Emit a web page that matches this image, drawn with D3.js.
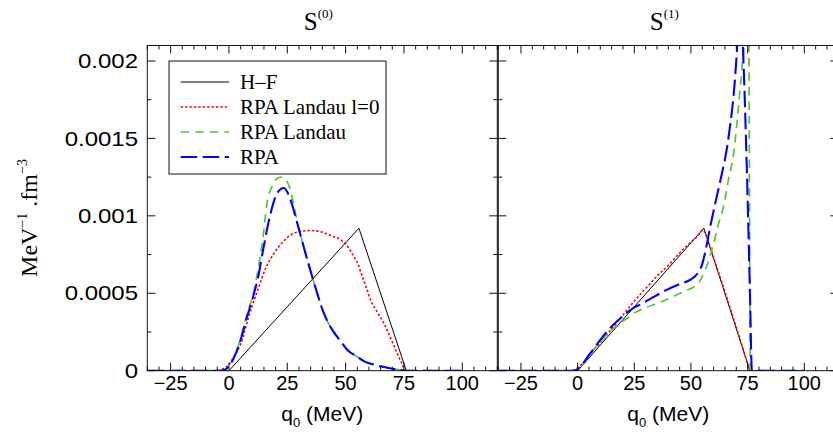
<!DOCTYPE html>
<html><head><meta charset="utf-8">
<script src="https://cdn.jsdelivr.net/npm/d3@7"></script>
<style>body{margin:0;background:#fff}svg{display:block}</style>
</head><body>
<svg id="c" width="833" height="438"></svg>
<script>
// ---------- data ----------
const xTicks = [-25, 0, 25, 50, 75, 100];
const yTicks = [0, 0.0005, 0.001, 0.0015, 0.002];
const yTickLabels = ["0", "0.0005", "0.001", "0.0015", "0.002"];
const panelTitles = ["(0)", "(1)"];
const seriesNames = ["H\u2013F", "RPA Landau l=0", "RPA Landau", "RPA"];

// Panel S(0)
const s0_hf = [[-35,0],[0,0],[55.7,0.00092],[76,0],[100,0]];
const s0_l0 = [[-35,0],[-5,0],[-3,0.00001],[0,0.00004],[2.5,0.0001],[5,0.00017],[8.5,0.00035],[12.3,0.00052],[16,0.00067],[19.4,0.00076],[23,0.00083],[26.5,0.000877],[30,0.000898],[35,0.000905],[40,0.000895],[44,0.00087],[47.9,0.000845],[51,0.0008],[53.5,0.000737],[55.5,0.00068],[57.1,0.00061],[59,0.00053],[60.7,0.000457],[63.5,0.00038],[66.4,0.000306],[69,0.00022],[72.1,0.000112],[74,0.00005],[75.7,0],[100,0]];
const s0_landau = [[-35,0],[-4,0],[-2,0.000005],[0,0.00003],[2,0.00008],[5,0.00021],[8,0.00038],[10,0.00047],[12.3,0.00064],[14.5,0.00085],[16.5,0.0011],[18.5,0.00119],[20.5,0.00124],[22.5,0.00125],[24.5,0.00123],[26.5,0.00116],[28,0.00105],[30,0.00092],[33.5,0.00072],[36.4,0.00057],[40.7,0.00037],[44,0.00027],[47.9,0.00019],[51,0.00013],[55,0.00009],[58,0.00006],[62,0.00004],[66,0.000025],[70,0.000013],[74,0.000004],[76,0],[100,0]];
const s0_rpa = [[-35,0],[-4,0],[-2,0.000005],[0,0.00003],[2,0.00008],[5,0.0002],[8,0.00036],[10,0.00046],[12.3,0.00059],[15,0.00081],[17.9,0.00102],[20.8,0.00115],[23.5,0.00118],[26,0.00112],[29.3,0.00095],[33.5,0.00072],[36.4,0.00057],[40.7,0.00037],[44,0.00027],[47.9,0.00019],[51,0.00013],[55,0.00009],[58,0.00006],[62,0.00004],[66,0.000025],[70,0.000013],[74,0.000004],[76,0],[100,0]];

// Panel S(1)
const s1_hf = [[-35,0],[0,0],[55.7,0.00092],[76,0],[100,0]];
const s1_l0 = [[-35,0],[-3,0],[-1,0.000005],[0,0.00002],[3,0.00006],[5,0.0001],[10,0.00018],[15,0.00027],[20,0.00036],[25,0.00045],[30,0.00053],[35,0.00061],[40,0.00068],[45,0.00076],[50,0.00083],[53,0.00087],[55.3,0.00091],[56.5,0.00088],[60,0.00073],[65,0.00051],[70,0.00028],[73,0.00014],[75.5,0.00002],[76,0],[100,0]];
const s1_landau = [[-35,0],[-2,0],[0,0.00001],[2,0.00004],[5,0.0001],[9,0.00017],[14,0.00025],[19,0.00031],[22,0.00034],[26,0.00038],[30.6,0.00041],[36,0.00044],[42.3,0.00048],[48,0.00052],[51.2,0.00054],[54,0.00058],[55.6,0.00063],[58,0.00072],[60,0.00082],[62,0.00094],[64.4,0.00106],[66.5,0.00123],[68.8,0.0014],[71,0.00171],[72.5,0.00195],[74,0.0022],[74.8,0.0024],[75.5,0.0021],[76.2,0],[100,0]];
const s1_rpa = [[-35,0],[-2,0],[0,0.00001],[2,0.00004],[5,0.0001],[9,0.00018],[14,0.00027],[19,0.00034],[24,0.0004],[28,0.00043],[34,0.00048],[39,0.00052],[45,0.00056],[50,0.00059],[53,0.00063],[55,0.00069],[56.5,0.00078],[58.5,0.00093],[61,0.0011],[63,0.00123],[66.6,0.00151],[69.6,0.00192],[70.4,0.0021],[71.6,0.0025],[72.9,0.0021],[74.1,0.00158],[75.1,0.00105],[76,0.00052],[76.9,0],[100,0]];

const panels = [
  {series: [s0_hf, s0_l0, s0_landau, s0_rpa], range: [147.3, 497.3]},
  {series: [s1_hf, s1_l0, s1_landau, s1_rpa], range: [498.3, 838.3]}
];

// ---------- styles ----------
const styles = [
  {color: "#000000", width: 1, dash: null, curve: d3.curveLinear},
  {color: "#ff0000", width: 1.6, dash: "2.4,2", curve: d3.curveMonotoneX},
  {color: "#55c43b", width: 1.7, dash: "8.5,6", curve: d3.curveMonotoneX},
  {color: "#0000ff", width: 2.1, dash: "16.5,5.5", curve: d3.curveMonotoneX}
];

const svg = d3.select("#c");
const yTop = 45.5, yBot = 370.7;
const y = d3.scaleLinear().domain([0, 0.0021]).range([yBot, yTop]);
const sans = "'Liberation Sans', Arial, Helvetica, sans-serif";
const serif = "'Liberation Serif', 'Times New Roman', serif";
const axisColor = "#111";
const minorX = d3.range(-35, 116, 5);
const minorY = d3.range(0, 0.00211, 0.00025);

panels.forEach((p, pi) => {
  const x = d3.scaleLinear().domain([-35, 115]).range(p.range);
  const g = svg.append("g");
  const clipId = "clip" + pi;
  svg.append("clipPath").attr("id", clipId).append("rect")
    .attr("x", p.range[0]).attr("y", yTop).attr("width", p.range[1] - p.range[0]).attr("height", yBot - yTop);

  // curves
  const cg = g.append("g").attr("clip-path", `url(#${clipId})`);
  p.series.forEach((data, si) => {
    const st = styles[si];
    const line = d3.line().x(d => x(d[0])).y(d => y(d[1])).curve(st.curve);
    cg.append("path").attr("d", line(data)).attr("fill", "none")
      .attr("stroke", st.color).attr("stroke-width", st.width)
      .attr("stroke-dasharray", st.dash);
  });

  // frame
  g.append("rect").attr("x", p.range[0]).attr("y", yTop)
    .attr("width", p.range[1] - p.range[0]).attr("height", yBot - yTop)
    .attr("fill", "none").attr("stroke", axisColor).attr("stroke-width", 1);

  // x ticks (bottom and top, inward)
  minorX.forEach(v => {
    const major = Math.abs(v % 25) < 1e-9;
    const len = major ? 8 : 4;
    const xx = x(v);
    g.append("line").attr("x1", xx).attr("x2", xx).attr("y1", yBot).attr("y2", yBot - len)
      .attr("stroke", axisColor).attr("stroke-width", 1);
    g.append("line").attr("x1", xx).attr("x2", xx).attr("y1", yTop).attr("y2", yTop + len)
      .attr("stroke", axisColor).attr("stroke-width", 1);
  });
  // y ticks (left and right, inward)
  minorY.forEach((v, i) => {
    const major = i % 2 === 0;
    const len = major ? 8 : 4;
    const yy = y(v);
    g.append("line").attr("x1", p.range[0]).attr("x2", p.range[0] + len).attr("y1", yy).attr("y2", yy)
      .attr("stroke", axisColor).attr("stroke-width", 1);
    g.append("line").attr("x1", p.range[1]).attr("x2", p.range[1] - len).attr("y1", yy).attr("y2", yy)
      .attr("stroke", axisColor).attr("stroke-width", 1);
  });

  // x tick labels
  xTicks.forEach(v => {
    g.append("text").attr("x", x(v)).attr("y", 390).attr("text-anchor", "middle")
      .attr("font-family", sans).attr("font-size", 20).attr("fill", "#000")
      .text(v < 0 ? "\u2212" + Math.abs(v) : String(v));
  });

  const cx = (p.range[0] + p.range[1]) / 2;
  // x axis title
  const xt = g.append("text").attr("x", cx).attr("y", 421).attr("text-anchor", "middle")
    .attr("font-family", sans).attr("font-size", 21).attr("fill", "#000");
  xt.append("tspan").text("q");
  xt.append("tspan").attr("font-size", 13).attr("dy", 6).text("0");
  xt.append("tspan").attr("dy", -6).text(" (MeV)");

  // panel title
  const tt = g.append("text").attr("x", cx - 4).attr("y", 30).attr("text-anchor", "middle")
    .attr("font-family", serif).attr("font-size", 25).attr("fill", "#000");
  tt.append("tspan").text("S");
  tt.append("tspan").attr("font-size", 13).attr("dy", -12).text(panelTitles[pi]);
});

// y tick labels (slightly wide glyphs as in the reference)
yTicks.forEach((v, i) => {
  svg.append("g").attr("transform", `translate(138,${y(v)}) scale(1.2,1)`)
    .append("text").attr("x", 0).attr("y", 0).attr("dy", "0.36em").attr("text-anchor", "end")
    .attr("font-family", sans).attr("font-size", 20).attr("fill", "#000").text(yTickLabels[i]);
});

// y axis title
const yl = svg.append("text").attr("transform", "translate(37,218) rotate(-90)")
  .attr("text-anchor", "middle").attr("font-family", serif).attr("font-size", 24).attr("fill", "#000");
yl.append("tspan").text("MeV");
yl.append("tspan").attr("font-size", 14).attr("dy", -10).text("\u22121");
yl.append("tspan").attr("dy", 10).text(" .fm");
yl.append("tspan").attr("font-size", 14).attr("dy", -10).text("\u22123");

// legend
const lg = svg.append("g");
lg.append("rect").attr("x", 169).attr("y", 61).attr("width", 217).attr("height", 113)
  .attr("fill", "#fff").attr("stroke", axisColor).attr("stroke-width", 1);
seriesNames.forEach((name, i) => {
  const yy = 82 + i * 25;
  const st = styles[i];
  lg.append("line").attr("x1", 180.7).attr("x2", 229).attr("y1", yy).attr("y2", yy)
    .attr("stroke", st.color).attr("stroke-width", st.width).attr("stroke-dasharray", st.dash);
  lg.append("text").attr("x", 240).attr("y", yy).attr("dy", "0.35em")
    .attr("font-family", serif).attr("font-size", 21).attr("fill", "#000").text(name);
});
</script>
</body></html>
